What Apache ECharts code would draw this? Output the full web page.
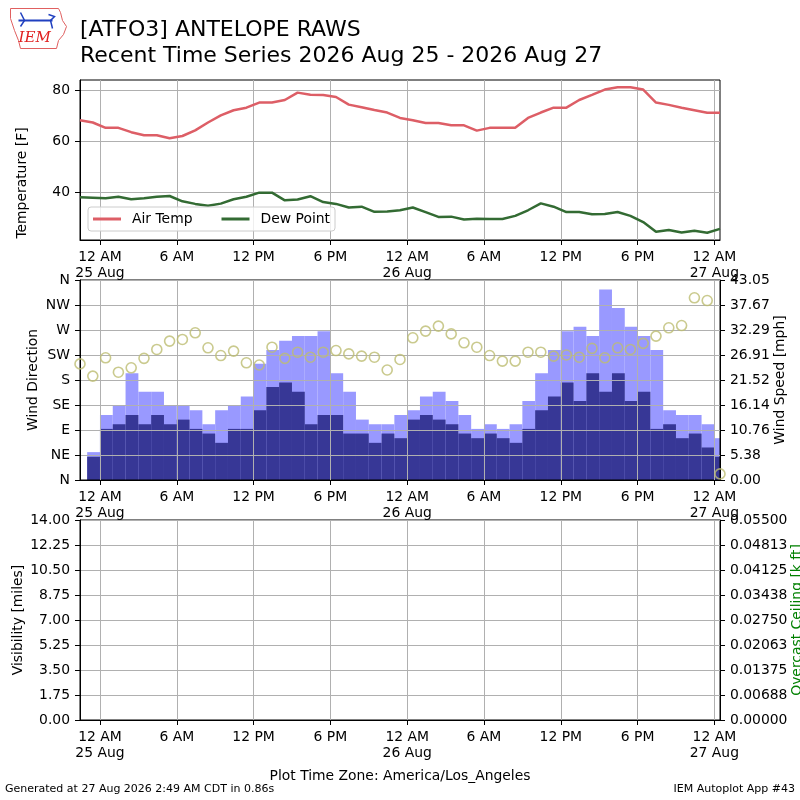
<!DOCTYPE html>
<html><head><meta charset="utf-8">
<script src="https://cdn.jsdelivr.net/npm/echarts@6/dist/echarts.min.js"></script>
<style>html,body{margin:0;padding:0;background:#fff}#c{width:800px;height:800px}</style>
</head><body><div id="c"></div>
<script>
const stationTitle = '[ATFO3] ANTELOPE RAWS';
const subTitle = 'Recent Time Series 2026 Aug 25 - 2026 Aug 27';
const tzText = 'Plot Time Zone: America/Los_Angeles';
const genText = 'Generated at 27 Aug 2026 2:49 AM CDT in 0.86s';
const appText = 'IEM Autoplot App #43';

// hourly observations, hours relative to 25 Aug 00:00 local; first obs 24 Aug 22:26
const firstObsHour = -1.56;
const airTemp = [68.4,67.5,65.4,65.4,63.7,62.5,62.5,61.3,62.2,64.4,67.5,70.3,72.3,73.3,75.3,75.3,76.3,79.2,78.4,78.3,77.5,74.5,73.5,72.4,71.4,69.3,
                 68.4,67.3,67.3,66.4,66.4,64.3,65.4,65.4,65.4,69.3,71.4,73.3,73.3,76.3,78.3,80.4,81.3,81.3,80.4,75.3,74.4,73.3,72.3,71.3,71.3];
const dewPoint = [38.2,38.0,37.8,38.4,37.4,37.8,38.4,38.7,36.6,35.6,34.9,35.7,37.4,38.4,40.0,40.0,37.0,37.3,38.6,36.3,35.6,34.2,34.5,32.5,32.6,33.1,
                  34.2,32.4,30.5,30.6,29.5,29.8,29.7,29.7,30.9,33.1,35.8,34.5,32.4,32.4,31.5,31.6,32.4,30.9,28.5,24.7,25.4,24.4,25.1,24.3,25.8];
const windDir = [209,187,220,194,202,219,235,250,253,265,238,224,232,211,207,239,219,230,221,230,233,227,223,221,198,217,
                 256,268,277,263,247,239,224,214,214,230,230,223,225,221,237,220,238,235,246,259,274,278,328,323,11];
// hourly wind bins [h, h+1), first bin 24 Aug 23:00
const firstBinHour = -1;
const windSpeed = [5,11,12,14,12,14,12,13,11,10,8,11,11,15,20,21,19,12,14,14,10,10,8,10,9,
                   13,14,13,12,10,9,10,9,8,11,15,18,21,17,23,19,23,17,19,11,12,9,10,7,5];
const windGust = [6,14,16,23,19,19,16,16,15,12,15,16,18,25,28,30,31,31,32,23,19,13,12,12,14,
                  15,18,19,17,14,11,12,11,12,17,23,28,32,33,31,41,37,33,31,28,15,14,14,12,9];

const xTickHours = [0,6,12,18,24,30,36,42,48];
const xTickLabels = ['12 AM\n25 Aug','6 AM','12 PM','6 PM','12 AM\n26 Aug','6 AM','12 PM','6 PM','12 AM\n27 Aug'];
const tempTicks = [40,60,80];
const dirLabels = ['N','NE','E','SE','S','SW','W','NW','N'];
const speedTickLabels = ['0.00','5.38','10.76','16.14','21.52','26.91','32.29','37.67','43.05'];
const visTickLabels = ['0.00','1.75','3.50','5.25','7.00','8.75','10.50','12.25','14.00'];
const ceilTickLabels = ['0.00000','0.00688','0.01375','0.02063','0.02750','0.03438','0.04125','0.04813','0.05500'];

const XMIN = -1.56, XMAX = 48.44;
const SPEED_MAX = 43.05, VIS_MAX = 14, CEIL_MAX = 0.055;
const FONT = 'DejaVu Sans';
const FS = 13.9;
const GRIDC = '#b0b0b0';
const C = {air:'#dd5e66', dew:'#336b33', gust:'#9999ff', speed:'#373796', dir:'#bdbd72'};

const obsSeries = arr => arr.map((v,i) => [firstObsHour + i, v]);
const binSeries = arr => arr.map((v,i) => [firstBinHour + i, v]);

function xAxisFor(gridIndex, z) {
  return {
    type:'value', gridIndex, min:XMIN, max:XMAX, z: z || 0,
    axisLine:{show:true, onZero:false, lineStyle:{color:'#000', width:1}},
    axisTick:{show:true, customValues:xTickHours, length:5, lineStyle:{color:'#000'}},
    axisLabel:{customValues:xTickHours, margin:9, color:'#000', fontFamily:FONT, fontSize:FS, lineHeight:16,
      formatter: v => { const k = xTickHours.indexOf(Math.round(v)); return k >= 0 ? xTickLabels[k] : ''; }},
    splitLine:{show:true, lineStyle:{color:GRIDC, width:1}}
  };
}
function idxLabel(labels, step) { return v => labels[Math.round(v / step)] || ''; }
const yBase = {
  axisLine:{show:true, onZero:false, lineStyle:{color:'#000', width:1}},
  axisTick:{show:true, length:5, lineStyle:{color:'#000'}},
  nameLocation:'middle', nameMoveOverlap:false,
  nameTextStyle:{fontFamily:FONT, fontSize:FS, color:'#000'}
};

function barRender(color) {
  return function(params, api) {
    const h = api.value(0), v = api.value(1);
    const p0 = api.coord([h, v]);
    const p1 = api.coord([h + 1, 0]);
    const cs = params.coordSys;
    const r = echarts.graphic.clipRectByRect(
      {x:p0[0], y:p0[1], width:p1[0]-p0[0], height:p1[1]-p0[1]},
      {x:cs.x, y:cs.y, width:cs.width, height:cs.height});
    if (!r) return null;
    return {type:'rect', shape:r, style:{fill:color}};
  };
}

const gridBase = {width:640, show:true, borderColor:'#000', borderWidth:1, backgroundColor:'transparent',
                  containLabel:false, outerBoundsMode:'none'};

const chart = echarts.init(document.getElementById('c'), null, {renderer:'canvas'});
chart.setOption({
  animation:false,
  backgroundColor:'#fff',
  textStyle:{fontFamily:FONT},
  grid:[
    Object.assign({}, gridBase, {left:80, top:80, height:160}),
    Object.assign({}, gridBase, {left:80, top:280, height:200, z:3}),
    Object.assign({}, gridBase, {left:80, top:520, height:200})
  ],
  xAxis:[xAxisFor(0), xAxisFor(1, 3), xAxisFor(2)],
  yAxis:[
    Object.assign({}, yBase, {type:'value', gridIndex:0, position:'left', min:21.45, max:84.15,
      name:'Temperature [F]', nameGap:51,
      nameTextStyle:{fontFamily:FONT, fontSize:FS, color:'#000', padding:[0,46,0,0]},
      axisTick:{show:true, length:5, customValues:tempTicks, lineStyle:{color:'#000'}},
      axisLabel:{customValues:tempTicks, margin:10, color:'#000', fontFamily:FONT, fontSize:FS},
      splitLine:{show:true, lineStyle:{color:GRIDC}}}),
    Object.assign({}, yBase, {type:'value', gridIndex:1, position:'left', min:0, max:360, interval:45, z:3,
      name:'Wind Direction', nameGap:40,
      axisLabel:{margin:10, color:'#000', fontFamily:FONT, fontSize:FS, formatter:idxLabel(dirLabels,45)},
      splitLine:{show:true, lineStyle:{color:GRIDC}}}),
    Object.assign({}, yBase, {type:'value', gridIndex:1, position:'right', min:0, max:SPEED_MAX, interval:SPEED_MAX/8, z:3,
      name:'Wind Speed [mph]', nameGap:53,
      axisLabel:{margin:10, color:'#000', fontFamily:FONT, fontSize:FS, formatter:idxLabel(speedTickLabels,SPEED_MAX/8)},
      splitLine:{show:false}}),
    Object.assign({}, yBase, {type:'value', gridIndex:2, position:'left', min:0, max:VIS_MAX, interval:VIS_MAX/8,
      name:'Visibility [miles]', nameGap:55,
      axisLabel:{margin:10, color:'#000', fontFamily:FONT, fontSize:FS, formatter:idxLabel(visTickLabels,VIS_MAX/8)},
      splitLine:{show:true, lineStyle:{color:GRIDC}}}),
    Object.assign({}, yBase, {type:'value', gridIndex:2, position:'right', min:0, max:CEIL_MAX, interval:CEIL_MAX/8,
      name:'Overcast Ceiling [k ft]', nameGap:70,
      nameTextStyle:{fontFamily:FONT, fontSize:FS, color:'#008000'},
      axisLabel:{margin:10, color:'#000', fontFamily:FONT, fontSize:FS, formatter:idxLabel(ceilTickLabels,CEIL_MAX/8)},
      splitLine:{show:false}})
  ],
  legend:{
    left:88, top:207, orient:'horizontal',
    data:['Air Temp','Dew Point'],
    icon:'rect', itemWidth:28, itemHeight:3, itemGap:29,
    padding:[5,5,5,5],
    backgroundColor:'rgba(255,255,255,0.8)', borderColor:'#cccccc', borderWidth:1, borderRadius:3,
    textStyle:{fontFamily:FONT, fontSize:FS, color:'#000', padding:[0,0,0,6]}
  },
  series:[
    {name:'Air Temp', type:'line', xAxisIndex:0, yAxisIndex:0, data:obsSeries(airTemp),
     symbol:'none', lineStyle:{color:C.air, width:2.5}, itemStyle:{color:C.air}, z:2},
    {name:'Dew Point', type:'line', xAxisIndex:0, yAxisIndex:0, data:obsSeries(dewPoint),
     symbol:'none', lineStyle:{color:C.dew, width:2.5}, itemStyle:{color:C.dew}, z:2},
    {name:'Wind Gust', type:'custom', xAxisIndex:1, yAxisIndex:2, data:binSeries(windGust),
     encode:{x:0, y:1}, renderItem:barRender(C.gust), z:1},
    {name:'Wind Speed', type:'custom', xAxisIndex:1, yAxisIndex:2, data:binSeries(windSpeed),
     encode:{x:0, y:1}, renderItem:barRender(C.speed), z:1.5},
    {name:'Wind Direction', type:'scatter', xAxisIndex:1, yAxisIndex:1, data:obsSeries(windDir),
     symbol:'circle', symbolSize:10,
     itemStyle:{color:'rgba(0,0,0,0)', borderColor:C.dir, borderWidth:1.6}, z:5}
  ],
  graphic:[
    {type:'text', left:80, top:19, style:{text:stationTitle, font:'22px "DejaVu Sans"', fill:'#000'}},
    {type:'text', left:80, top:45, style:{text:subTitle, font:'22px "DejaVu Sans"', fill:'#000'}},
    {type:'text', left:'center', top:769, style:{text:tzText, font:'13.9px "DejaVu Sans"', fill:'#000'}},
    {type:'text', left:5, top:784, style:{text:genText, font:'11px "DejaVu Sans"', fill:'#000'}},
    {type:'text', right:5, top:784, style:{text:appText, font:'11px "DejaVu Sans"', fill:'#000'}},
    {type:'group', left:8, top:6, children:[
      {type:'polyline', shape:{points:[[2,2],[50,2],[52,6],[54,14],[58,20],[55,28],[50,34],[48,42],[12,42],[10,34],[6,24],[2,12],[2,2]]},
       style:{stroke:'#e06060', lineWidth:1, fill:'none'}},
      {type:'polyline', shape:{points:[[10,14],[44,14]]}, style:{stroke:'#2040c0', lineWidth:2}},
      {type:'polyline', shape:{points:[[12,6],[16,14],[12,20]]}, style:{stroke:'#2040c0', lineWidth:1.5, fill:'none'}},
      {type:'polyline', shape:{points:[[40,8],[46,10],[42,14],[44,22]]}, style:{stroke:'#2040c0', lineWidth:1.5, fill:'none'}},
      {type:'text', x:10, y:24, style:{text:'IEM', font:'italic 15px "DejaVu Serif"', fill:'#e02020'}}
    ]}
  ]
});
</script></body></html>
